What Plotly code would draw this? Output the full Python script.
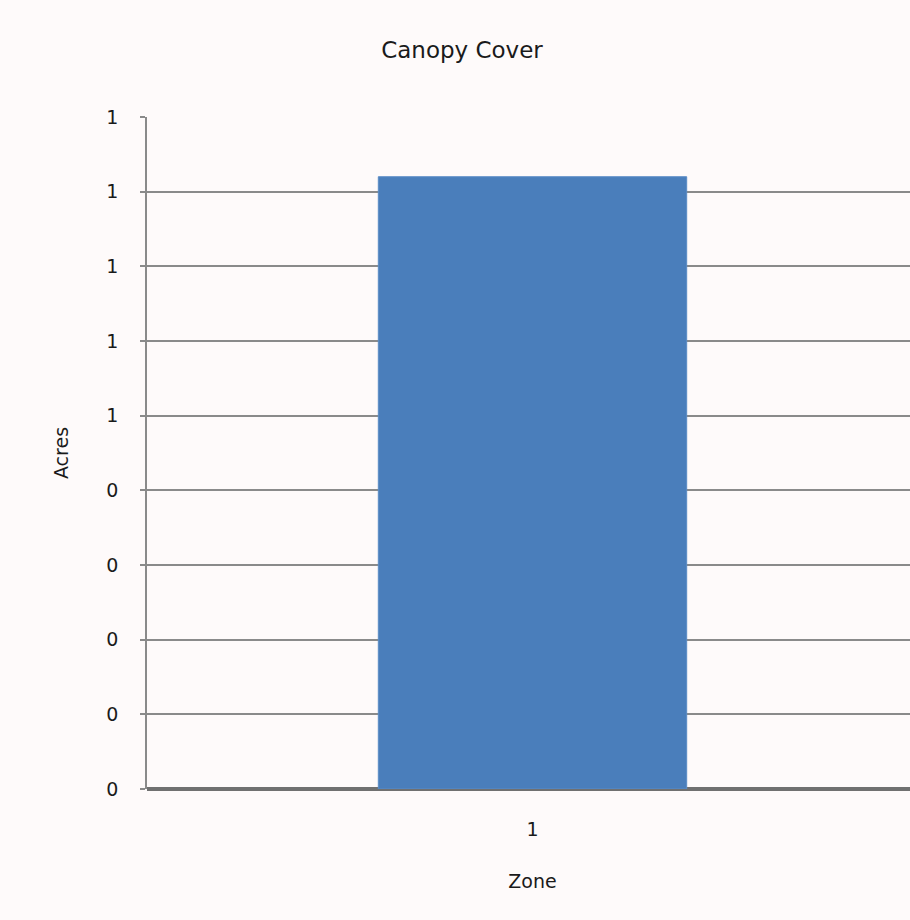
import plotly.graph_objects as go

# Data
zones = ["1"]
acres = [0.82]
y_tick_values = [0, 0.1, 0.2, 0.3, 0.4, 0.5, 0.6, 0.7, 0.8, 0.9]
y_tick_labels = ["0", "0", "0", "0", "0", "1", "1", "1", "1", "1"]

bg = "#fefafa"
font_family = "'DejaVu Sans', sans-serif"

fig = go.Figure()
fig.add_trace(go.Bar(
    x=list(range(len(zones))),
    y=acres,
    width=0.40,
    marker=dict(color="#4a7ebb", line=dict(color="#5b8cc6", width=1)),
    hoverinfo="skip",
))

fig.update_layout(
    width=918, height=920,
    paper_bgcolor=bg, plot_bgcolor=bg,
    margin=dict(l=147, r=0, t=117, b=131),
    showlegend=False,
    title=dict(text="Canopy Cover", x=462 / 918, xanchor="center", y=1 - 50 / 920, yanchor="middle",
               font=dict(family=font_family, size=23, color="#1a1a1a")),
    font=dict(family=font_family, size=19, color="#1a1a1a"),
)

fig.update_xaxes(
    range=[-0.5, 0.5],
    tickvals=list(range(len(zones))), ticktext=zones,
    tickfont=dict(size=19),
    showgrid=False, showline=False, zeroline=False,
    ticks="", ticklabelstandoff=27,
    title=dict(text="Zone", standoff=35, font=dict(family=font_family, size=19)),
)

fig.update_yaxes(
    range=[0, 0.9],
    tickvals=y_tick_values, ticktext=y_tick_labels,
    tickfont=dict(size=19),
    showgrid=True, gridcolor="#8a8a8a", gridwidth=1.5,
    showline=True, linecolor="#8a8a8a", linewidth=1.5,
    zeroline=True, zerolinecolor="#707070", zerolinewidth=3.5,
    ticks="outside", ticklen=5, tickcolor="#8a8a8a", tickwidth=1.5,
    ticklabelstandoff=18,
    title=dict(text="Acres", standoff=33, font=dict(family=font_family, size=19)),
)

fig.write_html(
    "out.html",
    config={"displayModeBar": False},
    post_script="document.body.style.margin='0';document.body.style.overflow='hidden';"
                "document.body.style.background='#fefafa';",
)
